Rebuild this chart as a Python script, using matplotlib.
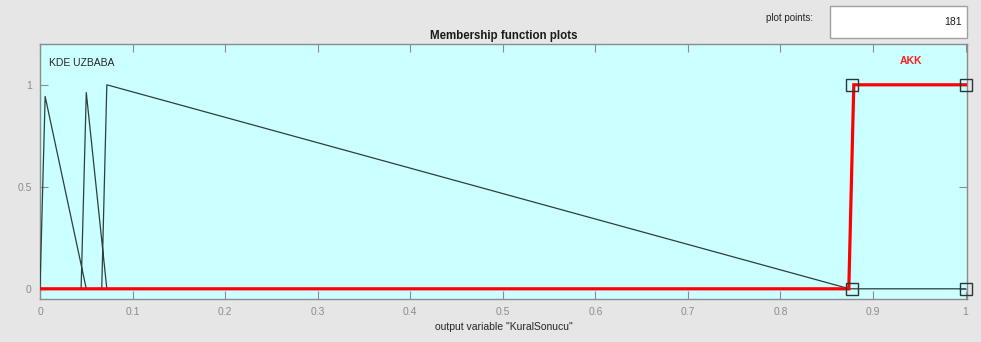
import matplotlib
matplotlib.use("Agg")
import matplotlib.pyplot as plt
from matplotlib.patches import Rectangle

plt.rcParams['font.family'] = ['Liberation Sans', 'DejaVu Sans']

# Output variable range and sampled membership function vertices
x_range = [0.0, 1.0]
plot_points = 181

# "KDE UZBABA" polyline (three triangular lobes, then flat at zero)
kde_x = [0.0, 0.00556, 0.05, 0.0444, 0.05, 0.0722, 0.0667, 0.0722, 0.8745, 1.0]
kde_y = [0.0, 0.943, 0.0, 0.0, 0.962, 0.0, 0.0, 1.0, 0.0, 0.0]

# "AKK" (selected) membership function
akk_x = [0.0, 0.8738, 0.8792, 1.0]
akk_y = [0.0, 0.0, 1.0, 1.0]
akk_params = [0.877, 0.877, 1.0, 1.0]
akk_corner_y = [0.0, 1.0, 1.0, 0.0]

xticks = [0, 0.1, 0.2, 0.3, 0.4, 0.5, 0.6, 0.7, 0.8, 0.9, 1]
xticklabels = ["0", "0.1", "0.2", "0.3", "0.4", "0.5", "0.6", "0.7", "0.8", "0.9", "1"]
yticks = [0, 0.5, 1]
yticklabels = ["0", "0.5", "1"]

W, H = 981, 342
fig = plt.figure(figsize=(W / 100, H / 100), dpi=100)
fig.patch.set_facecolor('#e6e6e6')

ax = fig.add_axes([40 / W, 1 - 299 / H, 927 / W, 255 / H])
ax.set_facecolor('#ccffff')
ax.set_xlim(x_range[0], x_range[1] + 0.0015)
ax.set_ylim(-0.05, 1.2)

ax.plot(kde_x, kde_y, color='#2e3e3e', lw=0.9, zorder=3)
ax.plot(akk_x, akk_y, color='#ff0000', lw=2.3, zorder=4, solid_joinstyle='miter')
ax.plot(akk_params, akk_corner_y, ls='none', marker='s', ms=8.5,
        mfc='none', mec='#263838', mew=1.0, zorder=5, clip_on=False)

ax.set_xticks(xticks)
ax.set_xticklabels(xticklabels)
ax.set_yticks(yticks)
ax.set_yticklabels(yticklabels)
ax.tick_params(direction='in', length=6, width=0.8, color='#8c8c8c',
               labelcolor='#8c8c8c', labelsize=7.5, top=True, right=True, pad=6)
ax.tick_params(axis='x', pad=6)
for s in ax.spines.values():
    s.set_color('#8c8c8c')
    s.set_linewidth(1.0)

ax.set_title('Membership function plots', fontsize=8.3, fontweight='bold',
             color='#1a1a1a', pad=3.5)
ax.set_xlabel('output variable "KuralSonucu"', fontsize=7.5, color='#262626', labelpad=3)

ax.text(0.01, 1.105, 'KDE UZBABA', fontsize=7.5, color='#262626',
        ha='left', va='center')
ax.text(0.941, 1.115, 'AKK', fontsize=7.5, color='#ff2020', fontweight='bold',
        ha='center', va='center')

# "plot points" entry box
fig.patches.append(Rectangle((830 / W, 1 - 38 / H), 137 / W, 32 / H,
                             transform=fig.transFigure, facecolor='white',
                             edgecolor='#a0a0a0', lw=1.0))
fig.text(962 / W, 1 - 22 / H, '181', fontsize=7.5, ha='right', va='center', color='#1a1a1a')
fig.text(790 / W, 1 - 18 / H, 'plot points:', fontsize=7, ha='center', va='center', color='#262626')

fig.savefig('out.png', dpi=100, facecolor=fig.get_facecolor())
